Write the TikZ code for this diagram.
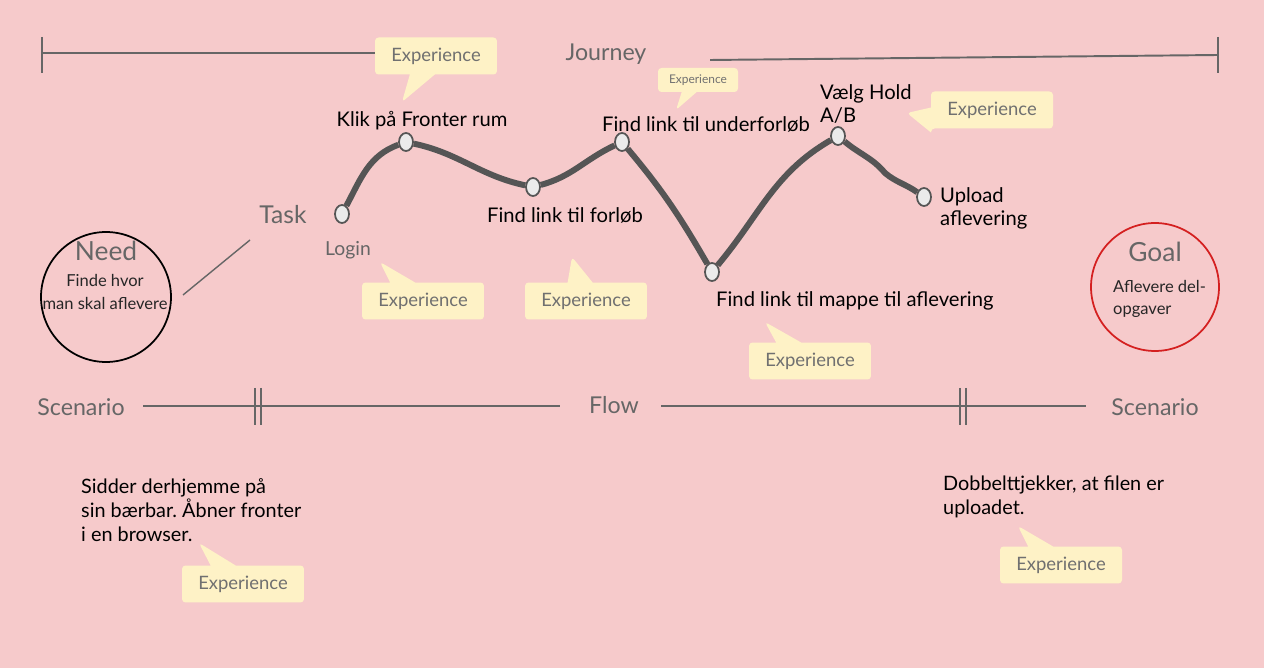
\documentclass[tikz,border=0pt]{standalone}
\usepackage{fontspec}
\setmainfont{Lato}
\usetikzlibrary{shapes.geometric,shapes.callouts}
\definecolor{bgpink}{HTML}{F6CACB}
\definecolor{expfill}{HTML}{FEF2C6}
\definecolor{expgrey}{HTML}{707070}
\definecolor{rulegrey}{HTML}{666666}
\definecolor{curvegrey}{HTML}{555555}
\definecolor{goalred}{HTML}{D42020}
\frenchspacing
\begin{document}
\begin{tikzpicture}[x=0.02cm,y=0.02cm,
        exp/.style={rectangle callout,fill=expfill,rounded corners=2pt,minimum width=2.44cm,minimum height=.74cm,inner sep=0pt,callout pointer width=.5cm,text=expgrey,font=\fontsize{10.5}{12}\selectfont},
        rule/.style={draw=rulegrey,line width=1.1pt},
        curve/.style={draw=curvegrey,line width=3.4pt},
        dot/.style={ellipse,draw=curvegrey,fill=black!8,line width=1pt,minimum width=.28cm,minimum height=.36cm,inner sep=0pt},
        lbl/.style={font=\fontsize{11.5}{13}\selectfont},
        head/.style={text=rulegrey,font=\fontsize{13.2}{15}\selectfont},
        small/.style={text=black!85,font=\fontsize{9.4}{13}\selectfont}]
                \fill[bgpink] (0,0) rectangle (1264,-668);
                \useasboundingbox (0,0) rectangle (1264,-668);

                % journey line
                \node[head] (journey) at (606,-54) {Journey};
                \node[exp,callout absolute pointer={(402,-102)}] (e1) at (436,-56) {Experience};
                \coordinate (jl) at (42,-53); \coordinate (jr) at (1218,-55);
                \draw[rule] (jl) -- (jl -| e1.west); \draw[rule] (710,-60) -- (jr);
                \draw[rule] (42,-37) -- (42,-73); \draw[rule] (1218,-37) -- (1218,-73);
                \node[exp,minimum width=1.6cm,minimum height=.48cm,callout pointer width=.3cm,font=\fontsize{6.8}{8}\selectfont,callout absolute pointer={(676,-110)}] (e2) at (698,-80) {Experience};
                \node[exp,callout absolute pointer={(907,-113)}] (e3) at (992,-110) {Experience};

                % tasks
                \node[dot] (login) at (342,-214) {};
                \node[dot] (klik) at (406,-142) {};
                \node[dot] (forlob) at (533,-187) {};
                \node[dot] (under) at (622,-142) {};
                \node[dot] (mappe) at (712,-272) {};
                \node[dot] (hold) at (838,-136) {};
                \node[dot] (upload) at (924,-197) {};
                \coordinate (bend) at (885,-173);
                \draw[curve] (login) to[out=62,in=200] (klik) to[out=-12,in=168] (forlob) to[out=15,in=205] (under) to[out=-50,in=120] (mappe) to[out=50,in=210] (hold) to[out=-40,in=130] (bend) to[out=-40,in=145] (upload);

                \node[lbl] (klikl) at (422,-121) {Klik på Fronter rum};
                \node[lbl] (forlobl) at (565,-215) {Find link til forløb};
                \node[lbl,anchor=west] (underl) at (596,-124) {Find link til underforløb};
                \node[lbl,anchor=west] (mappel) at (710,-301) {Find link til mappe til aflevering};
                \node[lbl,anchor=west,align=left] (holdl) at (814,-104) {Vælg Hold\\A/B};
                \node[lbl,anchor=west,align=left] (uploadl) at (934,-208) {Upload\\aflevering};
                \node[lbl,text=rulegrey,font=\fontsize{11}{13}\selectfont] (loginl) at (348,-250) {Login};
                \node[head,font=\fontsize{14}{16}\selectfont] (task) at (283,-215) {Task};

                \node[exp,callout absolute pointer={(380,-262)}] (e4) at (423,-301) {Experience};
                \node[exp,callout absolute pointer={(572,-257)}] (e5) at (586,-301) {Experience};
                \node[exp,callout absolute pointer={(765,-322)}] (e6) at (810,-361) {Experience};

                % need and goal
                \node[circle,draw=black,line width=1pt,minimum size=2.6cm] (need) at (106,-297) {};
                \node[head,font=\fontsize{15}{17}\selectfont] (needl) at (106,-251) {Need};
                \node[small,align=center] (needt) at (105,-292) {Finde hvor\\man skal aflevere};
                \draw[rule,line width=.8pt] (250,-240) -- (183,-295);
                \node[circle,draw=goalred,line width=1pt,minimum size=2.56cm] (goal) at (1155,-287) {};
                \node[head,font=\fontsize{15}{17}\selectfont] (goall) at (1155,-252) {Goal};
                \node[small,anchor=west,align=left] (goalt) at (1107,-299) {Aflevere del-\\opgaver};

                % flow line
                \node[head] (scl) at (81,-407) {Scenario};
                \node[head] (flow) at (614,-405) {Flow};
                \node[head] (scr) at (1155,-407) {Scenario};
                \draw[rule] (143,-406) -- (560,-406); \draw[rule] (661,-406) -- (1086,-406);
                \foreach \x in {255,261,960,966} \draw[rule] (\x,-388) -- (\x,-425);

                % scenarios
                \node[lbl,anchor=west,align=left,font=\fontsize{11.3}{13.7}\selectfont] (scent) at (75,-510) {Sidder derhjemme på\\sin bærbar. Åbner fronter\\i en browser.};
                \node[exp,callout absolute pointer={(199,-543)}] (e7) at (243,-584) {Experience};
                \node[lbl,anchor=west,align=left,font=\fontsize{11.3}{13.7}\selectfont] (scenr) at (937,-497) {Dobbelttjekker, at filen er\\uploadet.};
                \node[exp,callout absolute pointer={(1018,-526)}] (e8) at (1061,-565) {Experience};
            \end{tikzpicture}
\end{document}
